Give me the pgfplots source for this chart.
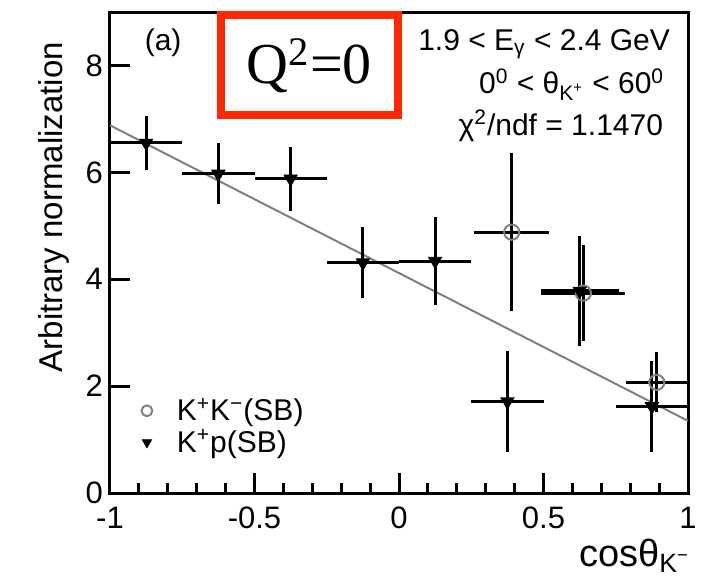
\documentclass[border=0pt]{standalone}
\usepackage{fontspec}
\setmainfont{Liberation Sans}
\newfontfamily\timesfont{Liberation Serif}
\usepackage{pgfplots}
\usepackage{pgfplotstable}
\pgfplotsset{compat=1.18}
\definecolor{qred}{RGB}{255,40,0}

% K+p (SB): x y ex ey
\pgfplotstableread{
x      y     ex     ey
-0.875 6.55  0.125  0.50
-0.625 5.97  0.125  0.57
-0.375 5.88  0.125  0.60
-0.125 4.31  0.125  0.67
0.125  4.34  0.125  0.82
0.375  1.71  0.125  0.94
0.625  3.78  0.135  1.03
0.875  1.62  0.125  0.85
}\kptable

% K+K- (SB)
\pgfplotstableread{
x      y     ex     ey
0.390  4.88  0.130  1.48
0.638  3.74  0.145  0.90
0.892  2.07  0.108  0.56
}\kktable

\pgfplotsset{
    errbars/.style={forget plot, draw=none, mark=none,
        error bars/.cd, x dir=both, x explicit, y dir=both, y explicit,
        error mark=none, error bar style={draw=black, solid, line width=1.5pt}},
}

\begin{document}
\begin{tikzpicture}
\useasboundingbox (-55pt,-42.5pt) rectangle (300.5pt,246.5pt);
\begin{axis}[
    scale only axis, width=289pt, height=240.5pt,
    at={(0,0)}, anchor=south west,
    xmin=-1, xmax=1, ymin=0, ymax=9,
    xtick={-1,-0.5,0,0.5,1}, xticklabels={-1,-0.5,0,0.5,1},
    minor x tick num=4,
    ytick={0,2,4,6,8}, yticklabels={0,2,4,6,8},
    tick pos=left, tick align=inside,
    major tick length=10pt, minor tick length=5pt,
    axis line style={line width=1.5pt},
    every tick/.style={black, line width=1.5pt},
    tick label style={font=\fontsize{15.5}{16}\selectfont},
    xticklabel style={yshift=-3.5pt},
    every axis y label/.style={at={(axis description cs:-0.083,0.952)}, rotate=90, anchor=base east, font=\fontsize{16.5}{17}\selectfont},
    every axis x label/.style={at={(axis description cs:1,0)}, anchor=base east, yshift=-36.5pt, xshift=4.5pt, font=\fontsize{19}{19}\selectfont},
    ylabel={Arbitrary normalization},
    xlabel={cosθ\textsubscript{K\textsuperscript{−}}},
    legend style={at={(axis description cs:0.024,0.215)}, anchor=north west, draw=none, fill=none,
        font=\fontsize{15}{15}\selectfont, row sep=-1pt},
    legend cell align=left,
    legend image code/.code={
        \node[draw=none, fill=none, inner sep=0pt, minimum width=0.75cm, minimum height=1pt, anchor=west] at (0cm,0cm) {};
        \draw[#1, mark size=2.7pt] plot coordinates {(0.3cm,0cm)};},
    clip=false,
]

\addplot[gray, line width=1pt, forget plot] coordinates {(-1,6.88) (1,1.35)};

% error bars first, markers drawn on top
\addplot[errbars] table[x=x, y=y, x error=ex, y error=ey] {\kktable};
\addplot[errbars] table[x=x, y=y, x error=ex, y error=ey] {\kptable};

\addplot[only marks, mark=o, mark size=3.8pt,
    mark options={draw=gray, fill=white, line width=1pt}]
    table[x=x, y=y] {\kktable};

\addplot[only marks, mark=triangle*, mark size=3.8pt,
    mark options={rotate=180, draw=black, fill=black}]
    table[x=x, y=y] {\kptable};

\legend{K\textsuperscript{+}K\textsuperscript{−}(SB), K\textsuperscript{+}p(SB)}

\node[anchor=base west, font=\fontsize{15}{15}\selectfont] at (axis description cs:0.048,0.921) {(a)};
\node[anchor=base east, font=\fontsize{15}{15}\selectfont] at (axis description cs:0.981,0.921) {1.9 < E\textsubscript{γ} < 2.4 GeV};
\node[anchor=base east, font=\fontsize{15}{15}\selectfont] at (axis description cs:0.971,0.830) {0\textsuperscript{0} < θ\textsubscript{K\textsuperscript{+}} < 60\textsuperscript{0}};
\node[anchor=base east, font=\fontsize{15}{15}\selectfont] at (axis description cs:0.969,0.744) {χ\textsuperscript{2}/ndf = 1.1470};

\draw[line width=4pt, qred] (axis cs:-0.616,8.95) rectangle (axis cs:-0.003,7.08);
\node[anchor=base, font=\timesfont\fontsize{29}{29}\selectfont] at (axis cs:-0.31,7.66) {Q\textsuperscript{2}=0};
\end{axis}
\end{tikzpicture}
\end{document}
